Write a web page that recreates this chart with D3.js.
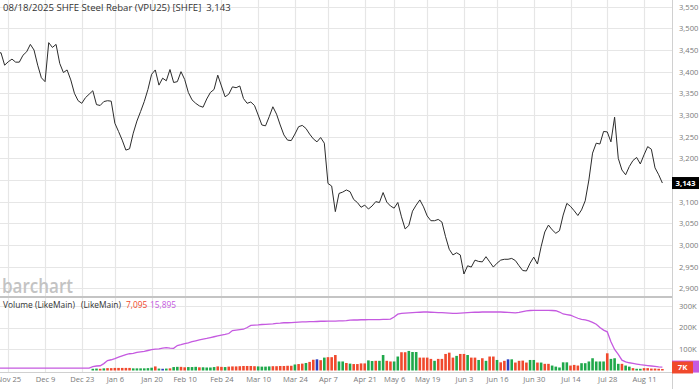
<!DOCTYPE html>
<html><head><meta charset="utf-8">
<script src="https://cdn.jsdelivr.net/npm/d3@7"></script>
<style>
html,body{margin:0;padding:0;background:#fff;}
svg{display:block;font-family:"Open Sans",sans-serif;}
</style></head>
<body>
<svg id="c" width="700" height="389"></svg>
<script>
// ---------- DATA ----------
const title = "08/18/2025 SHFE Steel Rebar (VPU25) [SHFE]";
const lastPriceLabel = "3,143";
// trading-day index of first value (index 0 = Nov 25, 2024)
const priceStartIdx = -3;
const prices = [
3440,3444,3415,3423,3429,3422,3422,3438,3446,3463,3450,3415,3386,3377,3467,3456,3463,3419,3398,3404,
3381,3350,3333,3327,3340,3348,3356,3324,3322,3331,3333,3332,3281,3262,3242,3219,3222,3258,3286,3308,
3331,3359,3394,3404,3369,3385,3379,3405,3375,3377,3400,3382,3352,3335,3327,3321,3318,3337,3352,3359,
3392,3367,3342,3348,3365,3363,3367,3338,3327,3330,3322,3300,3277,3275,3296,3319,3302,3277,3254,3242,
3241,3256,3273,3276,3269,3256,3245,3238,3248,3235,3142,3136,3077,3119,3122,3127,3123,3105,3098,3087,
3092,3083,3090,3100,3098,3121,3099,3090,3085,3098,3065,3037,3045,3078,3092,3104,3088,3067,3056,3056,
3059,3053,3019,2990,2977,2982,2977,2933,2952,2949,2965,2962,2961,2973,2961,2949,2958,2965,2967,2967,
2969,2964,2952,2941,2940,2958,2972,2956,2996,3030,3046,3035,3027,3033,3069,3096,3089,3079,3068,3081,
3102,3150,3212,3235,3233,3262,3261,3238,3295,3200,3173,3162,3181,3195,3202,3187,3208,3227,3221,3178,
3162,3143];

const volStartIdx = 23;
// volume in thousands
const volumes = [
8,9,8,10,11,11,12,12,12,12,12,10,10,10,10,11,13,19,9,8,
9,10,16,17,17,15,16,16,17,15,15,14,14,16,19,17,16,18,19,19,
20,21,21,21,20,19,18,18,19,20,20,21,21,22,22,28,30,32,35,40,
50,52,48,60,62,62,72,42,42,35,32,30,30,33,33,47,44,
45,45,72,45,42,42,65,85,85,91,86,86,60,60,60,54,45,54,54,77,
83,60,68,77,77,72,60,60,49,57,45,65,65,49,38,45,52,52,37,45,
46,37,49,49,37,37,31,31,23,18,14,38,38,23,26,23,34,34,42,57,
42,42,42,80,54,57,31,31,23,18,11,8,8,11,11,9,9,8,7.095];
// g = up, r = down, b = unchanged
const volColors = [
"g","g","r","g","r","r","r","r","r","r","r","g","g","g","g","g","g","r","g","b",
"g","r","g","g","r","r","g","g","g","r","g","g","g","g","r","r","g","r","r","r",
"r","r","r","r","r","g","g","g","g","r","r","r","r","r","r","g","r","r","g","r",
"r","b","r","g","r","r","r","g","g","r","g","r","r","r","r","g","g",
"r","g","g","r","r","g","g","r","r","g","g","g","r","r","r","r","g","r","r","r",
"r","r","g","r","r","g","r","r","g","r","g","r","r","g","r","r","b","g","r","r",
"r","r","g","g","r","g","r","r","g","g","g","g","g","r","r","r","g","g","g","g",
"g","g","g","r","g","g","g","r","g","g","r","g","g","r","r","r","r","r","r"];

const oiStartIdx = -3;
// open interest in thousands
const openInterest = [
11,11,11,11,11,11,11,11,11,11,11,11,11,11,11,11,11,11,11,11,
11,11,11,11,11,11,18,21,22,32,46,50,55,62,68,74,78,80,84,87,
89,93,97,99,101,104,106,104,103,116,120,125,129,134,138,142,146,149,153,157,
161,165,168,172,186,188,190,192,200,210,211,212,214,215,216,217,219,220,222,222,
223,224,225,226,226,227,227,228,229,229,230,230,230,231,231,232,234,235,235,236,
236,237,237,237,237,238,238,239,249,262,266,267,268,269,270,271,272,272,271,270,
269,269,268,267,266,266,267,268,269,270,271,271,272,272,272,272,272,272,271,270,
269,268,270,274,277,279,280,280,280,280,280,279,278,272,263,260,257,250,243,238,
235,231,224,215,200,188,180,134,98,75,48,40,36,33,30,27,25,23,21,19,
17,15.895];

const xTickIdx = [0,10,20,29,39,48,58,68,78,87,97,105,114,124,133,143,153,163,173];
const xTickLabels = ["Nov 25","Dec 9","Dec 23","Jan 6","Jan 20","Feb 10","Feb 24","Mar 10","Mar 24","Apr 7",
  "Apr 21","May 6","May 19","Jun 3","Jun 16","Jun 30","Jul 14","Jul 28","Aug 11"];
const priceTicks = [3550,3500,3450,3400,3350,3300,3250,3200,3150,3100,3050,3000,2950,2900];
const volTicks = [100,200,300];
const volTickLabels = ["100K","200K","300K"];
const volumeLegend = ["Volume (LikeMain)", "(LikeMain)", "7,095", "15,895"];
const lastVolLabel = "7K";

// ---------- LAYOUT ----------
const W = 700, H = 389;
const plotR = 672;
const priceTop = 0, priceBot = 296;
const volTop = 298, volBot = 372;
const colRed = "#f0492d", colGreen = "#1fa84a", colBlue = "#2b3fbf", colPurple = "#c55ae0";
const gridCol = "#e6e6e6", axisText = "#7a7a7a";

const svg = d3.select("#c");
const x = d3.scaleLinear().domain([0, 173]).range([8.3, 644]);
const y = d3.scaleLinear().domain([2900, 3550]).range([288.3, 6.7]);
const yv = d3.scaleLinear().domain([0, 300]).range([370.5, 306]);

const defs = svg.append("defs");
defs.append("clipPath").attr("id","cp").append("rect").attr("x",0).attr("y",priceTop).attr("width",plotR).attr("height",priceBot-priceTop);
defs.append("clipPath").attr("id","cv").append("rect").attr("x",0).attr("y",volTop).attr("width",plotR).attr("height",volBot-volTop);

// grid: vertical
svg.append("g").selectAll("line").data(xTickIdx).join("line")
  .attr("x1", d => Math.round(x(d)) + 0.5).attr("x2", d => Math.round(x(d)) + 0.5)
  .attr("y1", 0).attr("y2", volBot)
  .attr("stroke", gridCol).attr("stroke-width", 1.2);
// grid: price horizontal
svg.append("g").selectAll("line").data(priceTicks).join("line")
  .attr("x1", 0).attr("x2", plotR)
  .attr("y1", d => Math.round(y(d)) + 0.5).attr("y2", d => Math.round(y(d)) + 0.5)
  .attr("stroke", gridCol).attr("stroke-width", 1.2);
// grid: volume horizontal
svg.append("g").selectAll("line").data(volTicks).join("line")
  .attr("x1", 0).attr("x2", plotR)
  .attr("y1", d => Math.round(yv(d)) + 0.5).attr("y2", d => Math.round(yv(d)) + 0.5)
  .attr("stroke", gridCol).attr("stroke-width", 1.2);

// watermark
svg.append("text").attr("x", 2).attr("y", 292.5)
  .attr("font-family", "'Open Sans',sans-serif").attr("font-size", 20).attr("font-weight", 600)
  .attr("fill", "#c3c3c3").attr("textLength", 71).attr("lengthAdjust", "spacingAndGlyphs")
  .text("barchart");

// price line
const priceData = prices.map((v, k) => ({i: priceStartIdx + k, v}));
svg.append("path").attr("clip-path","url(#cp)")
  .datum(priceData)
  .attr("d", d3.line().x(d => x(d.i)).y(d => y(d.v)))
  .attr("fill","none").attr("stroke","#2b2b2b").attr("stroke-width",1).attr("stroke-linejoin","round");

// panel separator
svg.append("rect").attr("x",0).attr("y",296).attr("width",plotR).attr("height",2).attr("fill","#c4c4c4");
// bottom border
svg.append("line").attr("x1",0).attr("x2",plotR).attr("y1",372.5).attr("y2",372.5).attr("stroke","#d0d0d0");
// right axis line
svg.append("line").attr("x1",plotR+0.5).attr("x2",plotR+0.5).attr("y1",0).attr("y2",H).attr("stroke","#d0d0d0");

// volume bars
const bw = 2.6;
const colMap = {g: colGreen, r: colRed, b: colBlue};
svg.append("g").attr("clip-path","url(#cv)").selectAll("rect")
  .data(volumes.map((v, k) => ({i: volStartIdx + k, v, c: volColors[k]})))
  .join("rect")
  .attr("x", d => x(d.i) - bw/2).attr("width", bw)
  .attr("y", d => yv(d.v)).attr("height", d => yv(0) - yv(d.v))
  .attr("fill", d => colMap[d.c]);

// open interest line
svg.append("path").attr("clip-path","url(#cv)")
  .datum(openInterest.map((v, k) => ({i: oiStartIdx + k, v})))
  .attr("d", d3.line().x(d => x(d.i)).y(d => yv(d.v)))
  .attr("fill","none").attr("stroke",colPurple).attr("stroke-width",1.3);

const lastP = prices[prices.length-1];

// right axis labels: price (labels hidden behind the last-price tag)
const yAxis = d3.axisRight(y).tickValues(priceTicks).tickSize(0).tickPadding(7)
  .tickFormat(d => Math.abs(y(d) - y(lastP)) < 10 ? "" : d3.format(",")(d));
const gy = svg.append("g").attr("transform", `translate(${plotR},0)`).call(yAxis);
gy.select(".domain").remove();
gy.selectAll("text").attr("fill", axisText).attr("font-size", 7.6).attr("font-family","'Open Sans',sans-serif");

// right axis labels: volume
const yvAxis = d3.axisRight(yv).tickValues(volTicks).tickSize(0).tickPadding(7)
  .tickFormat((d, k) => volTickLabels[k]);
const gv = svg.append("g").attr("transform", `translate(${plotR},0)`).call(yvAxis);
gv.select(".domain").remove();
gv.selectAll("text").attr("fill", axisText).attr("font-size", 7.6).attr("font-family","'Open Sans',sans-serif");

// x axis labels
const xAxis = d3.axisBottom(x).tickValues(xTickIdx).tickSize(0).tickPadding(5)
  .tickFormat((d, k) => xTickLabels[k]);
const gx = svg.append("g").attr("transform", `translate(0,${volBot})`).call(xAxis);
gx.select(".domain").remove();
gx.selectAll("text").attr("fill", axisText).attr("font-size", 7.6).attr("font-family","'Open Sans',sans-serif");

// last price tag
svg.append("rect").attr("x", plotR).attr("y", y(lastP) - 6).attr("width", 27).attr("height", 12).attr("fill", "#000");
svg.append("text").attr("x", plotR + 13.5).attr("y", y(lastP) + 2.8).attr("text-anchor","middle")
  .attr("fill","#fff").attr("font-size",7.8).attr("font-weight",700).text(lastPriceLabel);

// last volume / OI tags
const lastOI = openInterest[openInterest.length-1];
svg.append("rect").attr("x", plotR).attr("y", yv(lastOI) - 6.5).attr("width", 27).attr("height", 12).attr("fill", colPurple);
const lastV = volumes[volumes.length-1];
svg.append("rect").attr("x", plotR).attr("y", yv(lastV) - 7.5).attr("width", 21).attr("height", 12).attr("fill", colRed);
svg.append("text").attr("x", plotR + 10.5).attr("y", yv(lastV) + 1.5).attr("text-anchor","middle")
  .attr("fill","#fff").attr("font-size",7.8).attr("font-weight",700).text(lastVolLabel);

// title
const tt = svg.append("text").attr("x", 3).attr("y", 10.5).attr("font-size", 9.6).attr("fill", "#333")
  .style("white-space", "pre");
tt.append("tspan").text(title + "  ");
tt.append("tspan").text(lastPriceLabel);

// volume legend (pieces placed as in the reference)
const legendX = [3, 81, 126, 150];
const legendFill = ["#333", "#333", colRed, colPurple];
svg.append("g").selectAll("text").data(volumeLegend).join("text")
  .attr("x", (d, k) => legendX[k]).attr("y", 307.5)
  .attr("font-size", 8.4).attr("fill", (d, k) => legendFill[k])
  .text(d => d);
</script>
</body></html>
